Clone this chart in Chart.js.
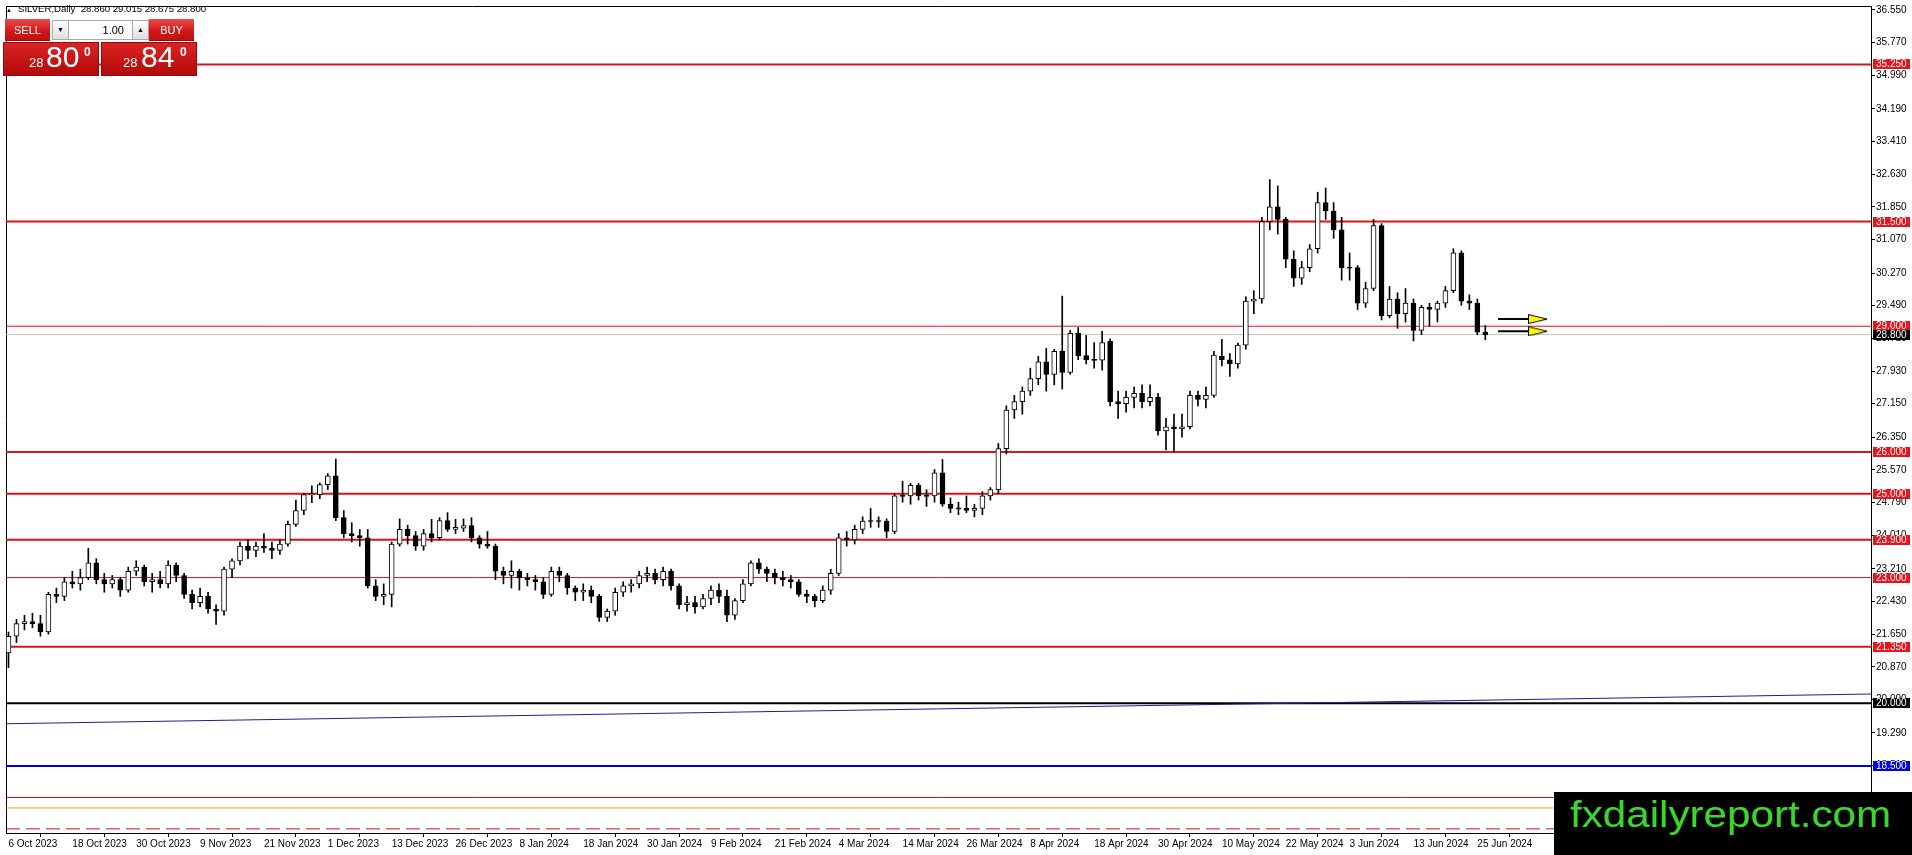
<!DOCTYPE html>
<html><head><meta charset="utf-8">
<script src="https://cdn.jsdelivr.net/npm/chart.js@4.4.1/dist/chart.umd.min.js"></script>
<style>
html,body{margin:0;padding:0;background:#fff;overflow:hidden;}
#wrap{position:relative;width:1912px;height:855px;}
#c{position:absolute;left:0;top:0;}
.ov{position:absolute;font-family:"Liberation Sans",Arial,sans-serif;line-height:1;white-space:pre;}
#hdrTri{left:6px;top:7px;font-size:6px;color:#000;}
#hdrTxt{left:18px;top:4px;font-size:9.6px;color:#000;}
.btn{top:19px;height:22px;width:45px;color:#fff;font-size:11px;text-align:center;line-height:22px;
 background:linear-gradient(#f04a4a,#d01616 60%,#c20f0f);border-bottom:1px solid #8a0a0a;box-sizing:border-box;}
.spin{top:20px;height:20px;width:17px;background:linear-gradient(#ffffff,#dedede);border:1px solid #a8a8a8;box-sizing:border-box;
 font-size:7px;text-align:center;line-height:18px;color:#000;}
#lot{left:69px;top:20px;width:64px;height:20px;background:#fff;border-top:1px solid #a8a8a8;border-bottom:1px solid #a8a8a8;box-sizing:border-box;
 font-size:11px;text-align:right;padding-right:9px;line-height:18px;color:#000;}
.big{top:42px;height:34px;width:96px;background:linear-gradient(#d92424,#c01010 70%,#b00b0b);box-sizing:border-box;border:1px solid #9a0808;}
.big span{position:absolute;color:#fff;font-family:"Liberation Sans",Arial,sans-serif;line-height:1;}
.sm{font-size:13px;top:13px;}
.lg{font-size:30px;top:-1px;}
.sup{font-size:12px;font-weight:bold;top:3px;}
#wm{left:1554px;top:792px;width:358px;height:63px;background:#000;}
#wmTxt{position:absolute;left:16px;top:4px;font-family:"Liberation Sans",Arial,sans-serif;font-size:37px;line-height:1;color:#3bd72d;
 transform:scaleX(1.14);transform-origin:0 0;white-space:pre;}
</style></head>
<body>
<div id="wrap">
<canvas id="c" width="1912" height="855"></canvas>
<div id="hdrTri" class="ov">▲</div>
<div id="hdrTxt" class="ov"></div>
<div class="ov btn" style="left:5px;">SELL</div>
<div class="ov spin" style="left:52px;">▼</div>
<div id="lot" class="ov">1.00</div>
<div class="ov spin" style="left:132px;">▲</div>
<div class="ov btn" style="left:149px;">BUY</div>
<div class="ov big" style="left:3px;"><span class="sm" style="left:25px;">28</span><span class="lg" style="left:42px;">80</span><span class="sup" style="left:80px;">0</span></div>
<div class="ov big" style="left:101px;"><span class="sm" style="left:21px;">28</span><span class="lg" style="left:39px;">84</span><span class="sup" style="left:78px;">0</span></div>
<div id="wm" class="ov"><div id="wmTxt">fxdailyreport.com</div></div>
</div>
<script>
// ---------------- DATA ----------------
const symbolName = 'SILVER,Daily';
const tickDates = ['6 Oct 2023','18 Oct 2023','30 Oct 2023','9 Nov 2023','21 Nov 2023','1 Dec 2023',
  '13 Dec 2023','26 Dec 2023','8 Jan 2024','18 Jan 2024','30 Jan 2024','9 Feb 2024','21 Feb 2024',
  '4 Mar 2024','14 Mar 2024','26 Mar 2024','8 Apr 2024','18 Apr 2024','30 Apr 2024','10 May 2024',
  '22 May 2024','3 Jun 2024','13 Jun 2024','25 Jun 2024'];
const barsPerTick = 8;

// daily candles, 6 Oct 2023 .. 26 Jun 2024
const opens = [
 21.20,21.60,21.90,21.95,21.90,21.70,22.60,22.55,22.90,22.85,23.00,23.35,22.95,22.85,22.95,22.70,23.15,23.25,
 22.90,22.95,22.85,23.30,23.05,22.60,22.40,22.55,22.25,22.20,23.20,23.40,23.75,23.65,23.75,23.70,23.65,23.80,24.27,24.60,24.98,24.98,
 25.22,25.43,24.43,24.05,24.00,23.95,22.80,22.55,22.60,23.80,24.15,24.00,23.75,24.05,23.95,24.36,24.15,24.18,24.24,23.95,
 23.80,23.75,23.15,23.05,23.15,23.00,22.95,22.90,22.60,23.15,23.05,22.75,22.65,22.70,22.55,22.05,22.20,22.65,22.80,22.85,23.05,23.10,
 22.95,23.15,22.80,22.35,22.40,22.30,22.50,22.70,22.55,22.10,22.45,22.85,23.35,23.20,23.10,23.00,22.95,22.90,22.60,22.55,22.45,
 22.70,23.10,23.95,23.90,24.15,24.35,24.35,24.35,24.10,24.95,24.95,25.20,24.95,24.95,25.50,24.75,24.65,24.65,24.60,24.65,
 24.95,25.10,26.08,27.00,27.20,27.45,27.75,28.15,27.85,28.40,27.90,28.83,28.30,28.20,28.19,28.64,27.20,27.15,27.30,27.40,27.20,27.30,
 26.50,26.60,26.55,26.60,27.35,27.25,27.35,28.28,28.20,28.10,28.55,29.60,29.65,31.50,31.85,31.55,30.60,30.15,30.40,30.85,31.95,31.75,31.30,
 30.40,30.40,29.55,29.90,31.40,29.25,29.65,29.30,29.55,28.90,29.45,29.40,29.55,29.85,30.75,29.60,29.55,28.86];
const highs = [
 21.70,22.00,22.10,22.15,22.10,22.65,22.75,23.00,23.15,23.20,23.70,23.45,23.10,23.05,23.00,23.25,23.40,23.30,
 23.10,23.15,23.40,23.35,23.10,22.70,22.75,22.65,22.35,23.25,23.45,23.85,23.90,23.85,24.05,23.85,23.90,24.35,24.85,25.00,25.19,25.26,
 25.48,25.83,24.60,24.31,24.15,24.15,22.95,22.85,23.85,24.40,24.25,24.10,24.15,24.39,24.43,24.55,24.39,24.40,24.43,24.00,
 24.10,23.80,23.25,23.40,23.20,23.10,23.05,23.00,23.25,23.25,23.10,22.80,22.85,22.80,22.60,22.25,22.75,22.90,22.95,23.15,23.25,23.20,
 23.25,23.20,22.85,22.55,22.55,22.60,22.80,22.85,22.70,22.50,22.95,23.40,23.45,23.25,23.20,23.15,23.05,22.95,22.70,22.60,22.80,
 23.20,24.05,24.10,24.25,24.45,24.65,24.45,24.40,25.00,25.30,25.25,25.25,25.10,25.58,25.82,24.90,24.80,24.95,24.75,25.05,
 25.15,26.20,27.10,27.35,27.55,28.00,28.28,28.47,28.45,29.72,28.90,28.97,28.78,28.61,28.88,28.70,27.45,27.45,27.55,27.60,27.60,
 27.40,26.80,26.90,26.90,27.45,27.45,27.55,28.40,28.69,28.35,28.60,29.70,29.85,31.60,32.50,32.35,31.60,30.80,30.55,30.95,32.20,32.30,31.95,
 31.60,30.75,30.45,30.05,31.55,31.45,29.95,29.80,29.90,29.65,29.50,29.55,29.60,29.95,30.85,30.80,29.75,29.65,29.015];
const lows = [
 20.85,21.45,21.75,21.80,21.60,21.65,22.40,22.45,22.75,22.70,22.95,22.85,22.65,22.75,22.55,22.65,23.05,22.80,
 22.65,22.75,22.75,22.90,22.50,22.25,22.30,22.15,21.88,22.10,23.00,23.30,23.45,23.50,23.60,23.45,23.55,23.75,24.22,24.50,24.79,24.88,
 25.10,24.36,23.95,23.85,23.75,22.75,22.45,22.35,22.30,23.75,23.80,23.65,23.65,23.85,23.90,24.10,24.05,24.10,23.85,23.70,
 23.70,22.95,22.85,22.75,22.70,22.80,22.70,22.50,22.55,22.90,22.60,22.45,22.45,22.40,21.95,21.95,22.10,22.55,22.65,22.75,22.90,22.85,
 22.80,22.70,22.25,22.20,22.15,22.25,22.35,22.40,21.95,22.00,22.40,22.80,23.10,22.90,22.85,22.80,22.75,22.55,22.40,22.30,22.40,
 22.60,23.05,23.75,23.80,24.05,24.20,24.20,23.95,24.05,24.80,24.75,24.85,24.70,24.80,24.70,24.55,24.50,24.55,24.45,24.50,
 24.85,25.00,25.95,26.80,26.90,27.35,27.60,27.45,27.60,27.50,27.85,28.20,28.10,28.00,27.95,27.10,26.80,26.95,27.05,27.05,27.10,
 26.40,26.05,26.00,26.35,26.55,27.10,27.05,27.30,28.05,27.80,28.00,28.45,29.30,29.55,31.30,31.20,30.40,29.95,30.00,30.30,30.75,31.55,31.10,
 30.10,30.10,29.40,29.45,29.85,29.15,29.20,28.95,29.10,28.65,28.80,29.00,29.10,29.45,29.80,29.50,29.40,28.80,28.675];
const closes = [
 21.60,21.90,21.95,21.90,21.70,22.60,22.55,22.90,22.85,23.00,23.35,22.95,22.85,22.95,22.70,23.15,23.25,22.90,
 22.95,22.85,23.30,23.05,22.60,22.40,22.55,22.25,22.20,23.20,23.40,23.75,23.65,23.75,23.70,23.65,23.80,24.27,24.60,24.98,25.00,25.22,
 25.43,24.43,24.05,24.00,23.95,22.80,22.55,22.60,23.80,24.15,24.00,23.75,24.05,23.95,24.36,24.15,24.20,24.24,23.95,23.80,
 23.75,23.15,23.05,23.15,23.00,22.95,22.90,22.60,23.15,23.05,22.75,22.65,22.70,22.55,22.05,22.20,22.65,22.80,22.85,23.05,23.10,22.95,
 23.15,22.80,22.35,22.40,22.30,22.50,22.70,22.55,22.10,22.45,22.85,23.35,23.20,23.10,23.00,22.95,22.90,22.60,22.55,22.45,22.70,
 23.10,23.95,23.90,24.15,24.35,24.35,24.35,24.10,24.95,24.95,25.20,24.95,24.95,25.50,24.75,24.65,24.65,24.60,24.65,24.95,
 25.10,26.08,27.00,27.20,27.45,27.75,28.15,27.85,28.40,27.90,28.83,28.30,28.20,28.19,28.61,27.20,27.15,27.30,27.40,27.20,27.30,
 26.50,26.60,26.55,26.60,27.35,27.25,27.35,28.31,28.20,28.10,28.55,29.60,29.65,31.50,31.85,31.55,30.60,30.15,30.40,30.85,31.95,31.75,31.30,
 30.40,30.40,29.55,29.90,31.40,29.25,29.65,29.30,29.55,28.90,29.45,29.40,29.55,29.85,30.75,29.60,29.55,28.86,28.80];

// price scale labels (right axis)
const priceTicks = [36.55,35.77,34.99,34.19,33.41,32.63,31.85,31.07,30.27,29.49,28.71,27.93,27.15,26.35,
  25.57,24.79,24.01,23.21,22.43,21.65,20.87,20.09,19.29,18.51,17.73,16.95];
// horizontal levels
const redLevels   = [35.25, 31.50, 29.00, 26.00, 25.00, 23.90, 23.00, 21.35];
const bidPrice    = 28.80;
const blackLevel  = 20.00;
const blueLevel   = 18.50;
const lowerLevels = [17.75, 17.50, 17.00];
// long-term trend line (two anchor points, bar index / price)
const trendBars   = [-0.3125, 233.3125];
const trendPrices = [19.51, 20.22];
// projection arrows
const arrowLevels = [29.17, 28.88];
const arrowBars   = [186.6, 190.7];
const arrowHeadBar = 191.6;

// ---------------- STYLE / LAYOUT ----------------
const X_MIN = -0.3125, X_MAX = 233.3125;
const Y_MAX = 36.645, Y_MIN = 16.902;
const redLevelWidths = [2, 2, 1, 2, 2, 2, 1, 2];
const RED = '#dc1419';
const lowerStyles = [{c:'#c81010', w:1, d:[]}, {c:'#eda31c', w:1, d:[]}, {c:'#d01010', w:1, d:[14, 6]}];

document.getElementById('hdrTxt').textContent =
  symbolName + '  ' + [opens, highs, lows, closes].map(a => a[a.length - 1].toFixed(3)).join(' ');

function hline(v, color, width, dash, order) {
  return {type:'line', data:[{x:X_MIN, y:v}, {x:X_MAX, y:v}], borderColor:color, borderWidth:width,
    borderDash:dash || [], pointRadius:0, order:order === undefined ? 5 : order, fill:false};
}

const wickData = opens.map((o, i) => ({x:i, y:[lows[i], highs[i]]}));
const bodyData = opens.map((o, i) => {
  const c = closes[i];
  if (Math.abs(o - c) < 0.015) { const m = (o + c) / 2; return {x:i, y:[m - 0.012, m + 0.012]}; }
  return {x:i, y:[Math.min(o, c), Math.max(o, c)]};
});
const bodyColors = opens.map((o, i) => (closes[i] > o + 0.014 ? '#ffffff' : '#000000'));

// arrow head image
const head = document.createElement('canvas');
head.width = 20; head.height = 10;
(function(){ const g = head.getContext('2d');
  g.beginPath(); g.moveTo(0.5, 0.5); g.lineTo(19, 5); g.lineTo(0.5, 9.5); g.closePath();
  g.fillStyle = '#ffff00'; g.fill(); g.strokeStyle = '#000'; g.lineWidth = 1; g.stroke(); })();

const datasets = [];
datasets.push({type:'bar', data:bodyData, backgroundColor:bodyColors, borderColor:'#000', borderWidth:1,
  borderSkipped:false, barThickness:5, grouped:false, order:0});
datasets.push({type:'bar', data:wickData, backgroundColor:'#000', borderWidth:0, barThickness:1, grouped:false, order:1});
redLevels.forEach((v, k) => datasets.push(hline(v, RED, redLevelWidths[k])));
datasets.push(hline(bidPrice, '#c0c0c0', 1));
datasets.push(hline(blackLevel, '#000000', 2));
datasets.push(hline(blueLevel, '#0000dc', 2));
lowerLevels.forEach((v, k) => datasets.push(hline(v, lowerStyles[k].c, lowerStyles[k].w, lowerStyles[k].d)));
datasets.push({type:'line', data:trendBars.map((b, k) => ({x:b, y:trendPrices[k]})), borderColor:'#1c1ca0',
  borderWidth:1, pointRadius:0, order:4});
arrowLevels.forEach(v => {
  datasets.push({type:'line', data:arrowBars.map(b => ({x:b, y:v})), borderColor:'#000', borderWidth:2, pointRadius:0, order:-1});
  datasets.push({type:'line', data:[{x:arrowHeadBar, y:v}], showLine:false, pointStyle:head, pointRadius:5, order:-2});
});

const levelLabels = [];
redLevels.forEach(v => levelLabels.push({v, bg:'#e8141c'}));
levelLabels.push({v:bidPrice, bg:'#000'});
levelLabels.push({v:blackLevel, bg:'#000'});
levelLabels.push({v:blueLevel, bg:'#0000e6'});
lowerLevels.forEach((v, k) => levelLabels.push({v, bg:lowerStyles[k].c}));

const framePlugin = {
  id:'frame',
  beforeDatasetsDraw(chart) {
    const {ctx, chartArea:a} = chart;
    ctx.save(); ctx.strokeStyle = '#000'; ctx.lineWidth = 1;
    ctx.beginPath(); ctx.moveTo(a.left + 0.5, a.bottom); ctx.lineTo(a.left + 0.5, a.top + 0.5); ctx.lineTo(a.right, a.top + 0.5);
    ctx.stroke(); ctx.restore();
  },
  afterDraw(chart) {
    const {ctx} = chart; const ys = chart.scales.y; const a = chart.chartArea;
    ctx.save();
    ctx.font = '10px "Liberation Sans", Arial, sans-serif'; ctx.textBaseline = 'middle'; ctx.textAlign = 'left';
    levelLabels.forEach(l => {
      const y = Math.round(ys.getPixelForValue(l.v));
      ctx.fillStyle = l.bg; ctx.fillRect(a.right + 2, y - 5, 37, 10);
      ctx.fillStyle = '#fff'; ctx.fillText(l.v.toFixed(3), a.right + 5, y + 0.5);
    });
    ctx.restore();
  }
};

Chart.defaults.font.family = '"Liberation Sans", Arial, sans-serif';
Chart.defaults.font.size = 10;
Chart.defaults.color = '#000';

new Chart(document.getElementById('c'), {
  type:'bar',
  data:{datasets},
  options:{
    responsive:false, devicePixelRatio:1, animation:false,
    layout:{padding:{left:2, top:2, right:0, bottom:0}},
    plugins:{legend:{display:false}, tooltip:{enabled:false}},
    scales:{
      x:{type:'linear', position:'bottom', min:X_MIN, max:X_MAX, bounds:'data', offset:false,
        grid:{display:true, drawOnChartArea:false, drawTicks:true, tickLength:4, color:'#000'},
        border:{display:true, color:'#000', width:1},
        ticks:{autoSkip:false, maxRotation:0, minRotation:0, align:'start', padding:1, color:'#000',
          font:{size:10}, callback:(v, i) => tickDates[i]},
        afterBuildTicks:s => { s.ticks = tickDates.map((d, k) => ({value:k * barsPerTick})); },
        afterFit:s => { s.height = 22; s.paddingLeft = 0; s.paddingRight = 0; }
      },
      y:{type:'linear', position:'right', min:Y_MIN, max:Y_MAX, bounds:'data',
        grid:{display:true, drawOnChartArea:false, drawTicks:true, tickLength:4, color:'#000'},
        border:{display:true, color:'#000', width:1},
        ticks:{padding:1, color:'#000', font:{size:10}, callback:v => Number(v).toFixed(3)},
        afterBuildTicks:s => { s.ticks = priceTicks.map(v => ({value:v})); },
        afterFit:s => { s.width = 41; s.paddingTop = 0; s.paddingBottom = 0; }
      }
    }
  },
  plugins:[framePlugin]
});
</script>
</body></html>
